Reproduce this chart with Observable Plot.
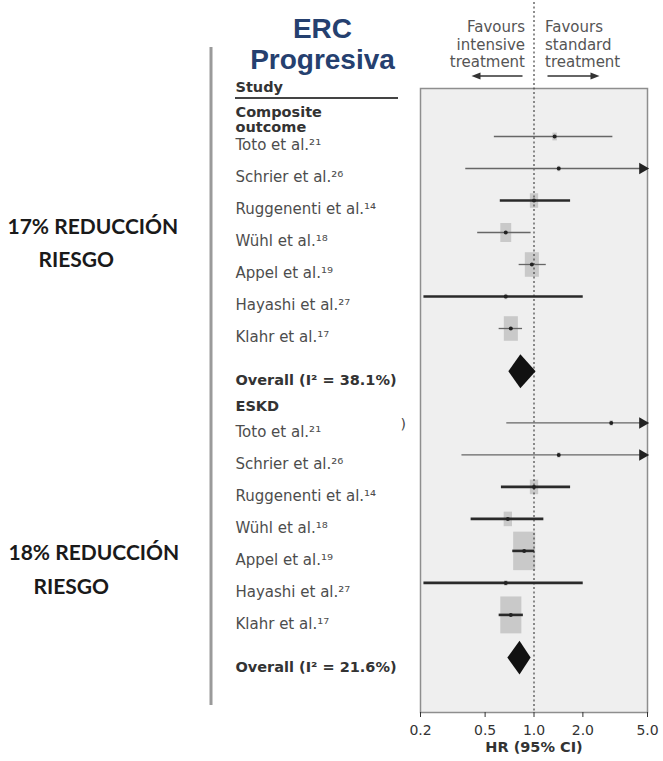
<!DOCTYPE html>
<html>
<head>
<meta charset="utf-8">
<script src="https://cdn.jsdelivr.net/npm/d3@7"></script>
<script src="https://cdn.jsdelivr.net/npm/@observablehq/plot@0.6"></script>
<style>
  body { margin: 0; background: #fff; }
  svg { display: block; }
</style>
</head>
<body>
<div id="chart"></div>
<script>
// Trials pooled in the meta-analysis (same trials for both outcomes)
const studies = [
  "Toto et al.²¹", "Schrier et al.²⁶", "Ruggenenti et al.¹⁴", "Wühl et al.¹⁸",
  "Appel et al.¹⁹", "Hayashi et al.²⁷", "Klahr et al.¹⁷"
];

// Composite outcome: hazard ratio, 95% CI, relative weight
const compositeHR     = [1.34, 1.42, 1.00, 0.67, 0.97, 0.67, 0.72];
const compositeLo     = [0.57, 0.38, 0.62, 0.45, 0.81, 0.21, 0.61];
const compositeHi     = [3.06, 7.00, 1.68, 0.96, 1.19, 2.01, 0.85];
const compositeWeight = [2, 1, 7, 12, 20, 1, 20];

// ESKD: hazard ratio, 95% CI, relative weight
const eskdHR     = [2.99, 1.42, 1.00, 0.69, 0.87, 0.67, 0.72];
const eskdLo     = [0.68, 0.36, 0.63, 0.41, 0.74, 0.21, 0.61];
const eskdHi     = [7.00, 7.00, 1.68, 1.15, 1.01, 2.01, 0.86];
const eskdWeight = [1, 1, 7, 7, 49, 1, 45];

// Pooled estimates
const overallGroups = ["composite", "eskd"];
const overallHR = [0.83, 0.82];
const overallLo = [0.70, 0.69];
const overallHi = [1.03, 0.96];
const overallI2 = ["38.1%", "21.6%"];

const groupTitles = ["Composite\noutcome", "ESKD"];
const riskNotes = ["17% REDUCCIÓN", "18% REDUCCIÓN"];
const xTicks = [0.2, 0.5, 1, 2, 5];
const xMin = 0.2, xMax = 5;

// ---- row layout ----
const OVERALL_GAP = 1.35, HEADER_GAP = 0.8;
function groupRows(group, hr, lo, hi, weight, start) {
  return studies.map((label, i) => ({
    group, label, hr: hr[i], lo: lo[i], hi: hi[i], weight: weight[i], row: start + i
  }));
}
const compStart = 0;
const compRows = groupRows("composite", compositeHR, compositeLo, compositeHi, compositeWeight, compStart);
const compOverallRow = compStart + studies.length - 1 + OVERALL_GAP;
const eskdHeaderRow = compOverallRow + HEADER_GAP;
const eskdStart = eskdHeaderRow + HEADER_GAP;
const eskdRows = groupRows("eskd", eskdHR, eskdLo, eskdHi, eskdWeight, eskdStart);
const eskdOverallRow = eskdStart + studies.length - 1 + OVERALL_GAP;

const rows = compRows.concat(eskdRows);
const overallRows = overallGroups.map((g, i) => ({
  group: g, hr: overallHR[i], lo: overallLo[i], hi: overallHi[i],
  row: i === 0 ? compOverallRow : eskdOverallRow,
  label: `Overall (I² = ${overallI2[i]})`
}));
const headerRows = [
  {label: groupTitles[0], row: compStart - HEADER_GAP},
  {label: groupTitles[1], row: eskdHeaderRow}
];

// heavier confidence-interval strokes
const heavy = new Set(["composite|2", "composite|5", "eskd|2", "eskd|3", "eskd|4", "eskd|5", "eskd|6"]);
rows.forEach((d, i) => { d.key = `${d.group}|${i % studies.length}`; });

// diamond outline for the pooled estimates
const DIAMOND_HALF = 0.53;
const diamondPts = overallRows.flatMap(d => [
  {group: d.group, x: d.lo, y1: d.row, y2: d.row},
  {group: d.group, x: d.hr, y1: d.row - DIAMOND_HALF, y2: d.row + DIAMOND_HALF},
  {group: d.group, x: d.hi, y1: d.row, y2: d.row}
]);

// weight box: a rectangle taller than wide
const tallBox = {
  draw(context, size) {
    const w = Math.sqrt(size / Math.PI);
    const h = w * 1.75;
    context.rect(-w, -h, 2 * w, 2 * h);
  }
};

const FONT = "DejaVu Sans";
const LABEL_DX = -185;

const plot = Plot.plot({
  width: 663,
  height: 761,
  marginLeft: 420,
  marginRight: 16,
  marginTop: 88,
  marginBottom: 49,
  style: {fontFamily: FONT, background: "#fff", color: "#333"},
  x: {type: "log", domain: [xMin, xMax]},
  y: {domain: [-1.5, 18], range: [88, 712], axis: null},
  r: {type: "sqrt", domain: [0, 49], range: [0, 11]},
  marks: [
    Plot.frame({fill: "#efefef", stroke: "#8e8e8e", strokeWidth: 1.5}),
    // weight boxes
    Plot.dot(rows, {x: "hr", y: "row", r: "weight", symbol: tallBox, fill: "#c9c9c9", stroke: "none"}),
    // line of no effect
    Plot.ruleX([1], {stroke: "#444", strokeWidth: 1.2, strokeDasharray: "2,2.5", insetTop: -86}),
    // confidence intervals
    Plot.ruleY(rows, {
      y: "row", x1: "lo", x2: d => Math.min(d.hi, xMax),
      stroke: d => heavy.has(d.key) ? "#2a2a2a" : "#666",
      strokeWidth: d => heavy.has(d.key) ? 2.6 : 1.3
    }),
    Plot.dot(rows, {x: "hr", y: "row", r: 2, fill: "#222", stroke: "none"}),
    // intervals running past the axis end
    Plot.dot(rows.filter(d => d.hi > xMax), {
      y: "row", frameAnchor: "right", symbol: "triangle2", rotate: 90, r: 5.5, dx: -5, fill: "#222"
    }),
    // pooled diamonds
    Plot.areaY(diamondPts, {x: "x", y1: "y1", y2: "y2", z: "group", fill: "#111", curve: "linear"}),
    // x axis
    Plot.axisX({ticks: xTicks, tickFormat: d3.format(".1f"), tickSize: 5, tickPadding: 8, fontSize: 14, label: null, color: "#333"}),
    Plot.text(["HR (95% CI)"], {frameAnchor: "bottom", dy: 39, fontSize: 14.5, fontWeight: "bold", fill: "#333"}),
    // study column
    Plot.text(["Study"], {frameAnchor: "top-left", dx: LABEL_DX, dy: -1, textAnchor: "start", lineAnchor: "middle", fontSize: 14.5, fontWeight: "bold", fill: "#333"}),
    Plot.text(headerRows, {y: "row", text: "label", frameAnchor: "left", dx: LABEL_DX, dy: 9, textAnchor: "start", lineAnchor: "middle", lineHeight: 1.05, fontSize: 14.5, fontWeight: "bold", fill: "#333"}),
    Plot.text(rows, {y: "row", text: "label", frameAnchor: "left", dx: LABEL_DX, dy: 9, textAnchor: "start", lineAnchor: "middle", fontSize: 15, fill: "#4d4d4d"}),
    Plot.text(overallRows, {y: "row", text: "label", frameAnchor: "left", dx: LABEL_DX, dy: 9, textAnchor: "start", lineAnchor: "middle", fontSize: 14.5, fontWeight: "bold", fill: "#333"}),
    Plot.text([")"], {y: [eskdStart], frameAnchor: "left", dx: -20, dy: 2, fontSize: 14, fill: "#444"}),
    // direction labels
    Plot.text([{x: 1, t: "Favours\nintensive\ntreatment"}], {x: "x", text: "t", frameAnchor: "top", dx: -9, dy: -44.5, textAnchor: "end", lineAnchor: "middle", lineHeight: 1.17, fontSize: 15, fill: "#555"}),
    Plot.text([{x: 1, t: "Favours\nstandard\ntreatment"}], {x: "x", text: "t", frameAnchor: "top", dx: 11, dy: -44.5, textAnchor: "start", lineAnchor: "middle", lineHeight: 1.17, fontSize: 15, fill: "#555"}),
    // title
    Plot.text(["ERC"], {frameAnchor: "top-left", dx: -98, dy: -59.5, textAnchor: "middle", lineAnchor: "middle", fontSize: 28, fontWeight: "bold", fontFamily: "Liberation Sans", fill: "#25406f"}),
    Plot.text(["Progresiva"], {frameAnchor: "top-left", dx: -98, dy: -28.5, textAnchor: "middle", lineAnchor: "middle", fontSize: 28, fontWeight: "bold", fontFamily: "Liberation Sans", fill: "#25406f"}),
    // risk-reduction notes
    Plot.text([riskNotes[0]], {frameAnchor: "top-left", dx: -413, dy: 139, textAnchor: "start", lineAnchor: "middle", fontSize: 21, fontWeight: "bold", fontFamily: "Lato", fill: "#1a1a1a"}),
    Plot.text(["RIESGO"], {frameAnchor: "top-left", dx: -382, dy: 172, textAnchor: "start", lineAnchor: "middle", fontSize: 21, fontWeight: "bold", fontFamily: "Lato", fill: "#1a1a1a"}),
    Plot.text([riskNotes[1]], {frameAnchor: "top-left", dx: -412, dy: 465, textAnchor: "start", lineAnchor: "middle", fontSize: 21, fontWeight: "bold", fontFamily: "Lato", fill: "#1a1a1a"}),
    Plot.text(["RIESGO"], {frameAnchor: "top-left", dx: -387, dy: 499, textAnchor: "start", lineAnchor: "middle", fontSize: 21, fontWeight: "bold", fontFamily: "Lato", fill: "#1a1a1a"})
  ]
});

// Decorations: divider bar, header underline and direction arrows
const svg = d3.select(plot);
const x1 = plot.scale("x").apply(1);
const deco = svg.append("g");
deco.append("line").attr("x1", 211).attr("x2", 211).attr("y1", 47).attr("y2", 705)
  .attr("stroke", "#9a9a9a").attr("stroke-width", 3);
deco.append("line").attr("x1", 235).attr("x2", 398).attr("y1", 98).attr("y2", 98)
  .attr("stroke", "#444").attr("stroke-width", 1.8);
function arrow(from, to, y) {
  const dir = Math.sign(to - from);
  deco.append("line").attr("x1", from).attr("x2", to - dir * 7).attr("y1", y).attr("y2", y)
    .attr("stroke", "#333").attr("stroke-width", 1.5);
  deco.append("path")
    .attr("d", `M${to},${y} L${to - dir * 9},${y - 3.5} L${to - dir * 9},${y + 3.5} Z`)
    .attr("fill", "#333");
}
arrow(x1 - 11, x1 - 62, 76);
arrow(x1 + 14, x1 + 66, 76);

document.getElementById("chart").appendChild(plot);
</script>
</body>
</html>
